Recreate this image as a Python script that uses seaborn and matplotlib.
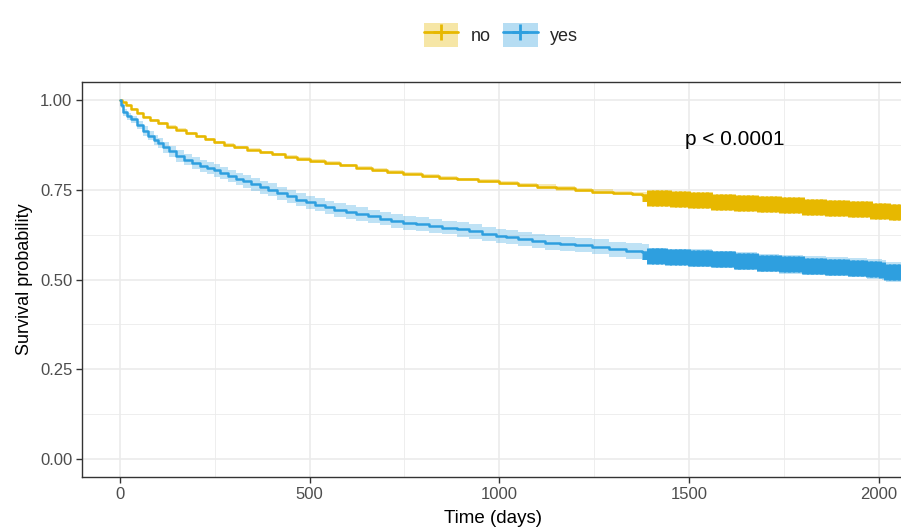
#!/usr/bin/env python3
"""Kaplan-Meier style survival curves, no vs yes."""

import numpy as np
import matplotlib
matplotlib.use("Agg")
import matplotlib.pyplot as plt
from matplotlib.lines import Line2D
from matplotlib.patches import Patch
from matplotlib.legend_handler import HandlerTuple
import seaborn as sns

# Group "no"
no_time = [0, 5, 15, 30, 45, 61, 80, 100, 125, 149,
           175, 200, 225, 247, 275, 300, 335, 368, 400, 435,
           468, 500, 540, 580, 623, 665, 705, 747, 795, 840,
           889, 945, 1000, 1050, 1100, 1150, 1200, 1245, 1300, 1350,
           1376, 1395, 1450, 1500, 1560, 1620, 1680, 1737, 1800, 1860,
           1920, 1980, 2030, 2060]
no_surv = [1.000, 0.994, 0.986, 0.975, 0.964, 0.953, 0.944, 0.936, 0.926, 0.917,
           0.908, 0.899, 0.891, 0.883, 0.876, 0.869, 0.862, 0.855, 0.849, 0.842,
           0.836, 0.830, 0.824, 0.818, 0.812, 0.806, 0.800, 0.795, 0.789, 0.784,
           0.779, 0.774, 0.769, 0.764, 0.759, 0.754, 0.749, 0.745, 0.741, 0.739,
           0.737, 0.727, 0.724, 0.721, 0.717, 0.714, 0.710, 0.707, 0.703, 0.700,
           0.696, 0.692, 0.689, 0.687]
no_ci = [0.000, 0.001, 0.002, 0.003, 0.003, 0.003, 0.004, 0.004, 0.004, 0.004,
         0.004, 0.004, 0.004, 0.004, 0.004, 0.004, 0.004, 0.004, 0.004, 0.004,
         0.005, 0.005, 0.005, 0.005, 0.005, 0.005, 0.005, 0.005, 0.005, 0.005,
         0.005, 0.005, 0.006, 0.006, 0.006, 0.006, 0.006, 0.006, 0.006, 0.006,
         0.006, 0.007, 0.007, 0.007, 0.007, 0.007, 0.007, 0.007, 0.007, 0.007,
         0.007, 0.008, 0.008, 0.008]

# Group "yes"
yes_time = [0, 3, 9, 18, 30, 45, 61, 75, 90, 100,
            114, 130, 149, 170, 190, 210, 230, 247, 265, 285,
            305, 325, 345, 368, 390, 415, 440, 465, 490, 515,
            540, 565, 595, 623, 655, 685, 715, 747, 780, 815,
            850, 889, 920, 955, 990, 1018, 1050, 1085, 1120, 1160,
            1200, 1245, 1290, 1335, 1376, 1395, 1440, 1500, 1560, 1620,
            1680, 1737, 1800, 1860, 1920, 1970, 2008, 2020, 2060]
yes_surv = [1.000, 0.985, 0.966, 0.955, 0.946, 0.931, 0.914, 0.901, 0.889, 0.881,
            0.869, 0.857, 0.844, 0.834, 0.825, 0.817, 0.810, 0.804, 0.796, 0.789,
            0.781, 0.774, 0.765, 0.757, 0.750, 0.741, 0.732, 0.723, 0.715, 0.708,
            0.701, 0.694, 0.688, 0.682, 0.676, 0.670, 0.664, 0.658, 0.654, 0.649,
            0.645, 0.640, 0.634, 0.627, 0.622, 0.618, 0.613, 0.608, 0.603, 0.599,
            0.596, 0.591, 0.585, 0.580, 0.576, 0.565, 0.563, 0.560, 0.556, 0.551,
            0.546, 0.542, 0.539, 0.536, 0.533, 0.530, 0.526, 0.522, 0.520]
yes_ci = [0.000, 0.006, 0.009, 0.010, 0.011, 0.012, 0.013, 0.013, 0.014, 0.014,
          0.015, 0.015, 0.016, 0.016, 0.016, 0.016, 0.017, 0.017, 0.017, 0.017,
          0.017, 0.018, 0.018, 0.018, 0.018, 0.018, 0.018, 0.018, 0.018, 0.018,
          0.018, 0.019, 0.019, 0.019, 0.019, 0.019, 0.019, 0.019, 0.019, 0.019,
          0.019, 0.020, 0.020, 0.020, 0.020, 0.020, 0.020, 0.020, 0.020, 0.020,
          0.020, 0.021, 0.021, 0.022, 0.022, 0.023, 0.023, 0.024, 0.024, 0.025,
          0.025, 0.026, 0.026, 0.027, 0.027, 0.028, 0.028, 0.028, 0.028]

# Censoring times (dense tail)
censor_time = [1398, 1410, 1422, 1434, 1446, 1458, 1470, 1482, 1494, 1506, 1518, 1530,
               1542, 1554, 1566, 1578, 1590, 1602, 1614, 1626, 1638, 1650, 1662, 1674,
               1686, 1698, 1710, 1722, 1734, 1746, 1758, 1770, 1782, 1794, 1806, 1818,
               1830, 1842, 1854, 1866, 1878, 1890, 1902, 1914, 1926, 1938, 1950, 1962,
               1974, 1986, 1998, 2010, 2022, 2034, 2046, 2058]

groups = ["no", "yes"]
colors = {"no": "#E7B800", "yes": "#2E9FDF"}
x_ticks = [0, 500, 1000, 1500, 2000]
y_ticks = [0.0, 0.25, 0.5, 0.75, 1.0]
p_label = "p < 0.0001"


def step_value(times, values, t):
    idx = np.searchsorted(times, t, side="right") - 1
    return np.asarray(values)[idx]


def main():
    sns.set_style("white")
    plt.rcParams["font.family"] = ["Liberation Sans", "DejaVu Sans"]

    fig = plt.figure(figsize=(9.01, 5.30), dpi=100)
    ax = fig.add_axes([0.091, 0.100, 0.912, 0.745])

    data = {
        "no": (no_time, no_surv, no_ci),
        "yes": (yes_time, yes_surv, yes_ci),
    }
    for g in groups:
        t, s, ci = data[g]
        s = np.asarray(s)
        ci = np.asarray(ci)
        ax.fill_between(t, s - ci, np.minimum(s + ci, 1.0), step="post",
                        color=colors[g], alpha=0.3, linewidth=0, zorder=2)
        sns.lineplot(x=t, y=s, ax=ax, color=colors[g], linewidth=1.8,
                     drawstyle="steps-post", estimator=None, sort=False, zorder=3)
        cy = [step_value(t, s, c) for c in censor_time]
        ax.plot(censor_time, cy, linestyle="none", marker="+", markersize=11,
                markeredgewidth=5, color=colors[g], zorder=4)

    ax.text(1490, 0.89, p_label, fontsize=15, ha="left", va="center", color="black")

    ax.set_xlim(-100, 2066)
    ax.set_ylim(-0.05, 1.05)
    ax.set_xticks(x_ticks)
    ax.set_xticklabels([str(v) for v in x_ticks])
    ax.set_yticks(y_ticks)
    ax.set_yticklabels([f"{v:.2f}" for v in y_ticks])
    ax.set_xticks([250, 750, 1250, 1750], minor=True)
    ax.set_yticks([0.125, 0.375, 0.625, 0.875], minor=True)

    ax.grid(which="major", color="#EBEBEB", linewidth=1.2, zorder=0)
    ax.grid(which="minor", color="#EBEBEB", linewidth=0.6, zorder=0)
    ax.set_axisbelow(True)
    for side, sp in ax.spines.items():
        sp.set_color("#333333")
        sp.set_linewidth(1.0)
    ax.spines["right"].set_visible(False)

    ax.tick_params(axis="both", which="major", direction="out", length=4, width=1,
                   color="#333333", labelcolor="#4D4D4D", labelsize=12, pad=3,
                   bottom=True, left=True)
    ax.tick_params(axis="both", which="minor", length=0)

    ax.set_xlabel("Time (days)", fontsize=13.5, labelpad=6, color="black")
    ax.set_ylabel("Survival probability", fontsize=13, labelpad=5, color="black")

    handles = []
    for g in groups:
        patch = Patch(facecolor=colors[g], alpha=0.35, edgecolor="none")
        line = Line2D([], [], color=colors[g], linewidth=2, marker="+",
                      markersize=11, markeredgewidth=2)
        handles.append((patch, line))
    fig.legend(handles, groups, loc="center", bbox_to_anchor=(0.556, 0.934), ncol=2,
               frameon=False, fontsize=13, handler_map={tuple: HandlerTuple(ndivide=1)},
               handlelength=1.9, handleheight=1.6, handletextpad=0.7, columnspacing=0.7)

    fig.savefig("out.png", dpi=100)
    plt.close(fig)


if __name__ == "__main__":
    main()
